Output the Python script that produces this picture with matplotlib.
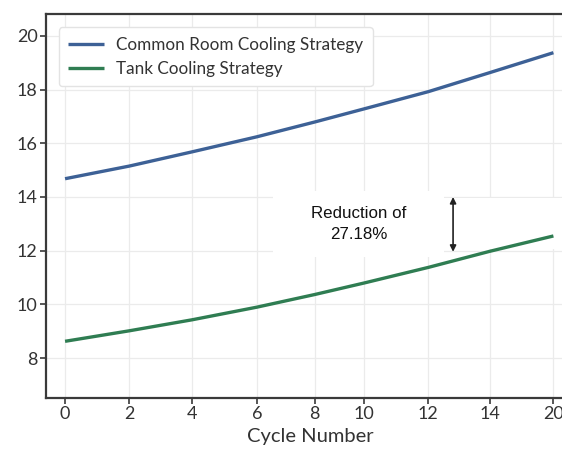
import matplotlib
matplotlib.use("Agg")
import matplotlib.pyplot as plt
from matplotlib.patches import Rectangle

# Cycle labels and where each one sits along the axis
cycle_labels = ["0", "2", "4", "6", "8", "10", "12", "14", "20"]
cycle_pos = [0, 1.01, 2.0, 3.02, 3.93, 4.71, 5.72, 6.69, 7.69]

common_room = [14.68, 15.15, 15.68, 16.24, 16.79, 17.28, 17.92, 18.63, 19.37]
tank = [8.63, 9.02, 9.43, 9.90, 10.37, 10.80, 11.38, 11.98, 12.55]

y_ticks = [8, 10, 12, 14, 16, 18, 20]

W, H = 562, 453
fig = plt.figure(figsize=(W / 100, H / 100), dpi=100)
ax = fig.add_axes([46 / W, (H - 398) / H, (575 - 46) / W, (398 - 14) / H])

font = "Lato"
blue = "#3d6196"
green = "#2f7d52"

ax.plot(cycle_pos, common_room, color=blue, lw=2.4, label="Common Room Cooling Strategy",
        solid_capstyle="butt", zorder=4)
ax.plot(cycle_pos, tank, color=green, lw=2.4, label="Tank Cooling Strategy",
        solid_capstyle="butt", zorder=4)

ax.set_xlim(-0.30, 8.03)
ax.set_ylim(6.52, 20.81)
ax.set_xticks(cycle_pos)
ax.set_xticklabels(cycle_labels)
ax.set_yticks(y_ticks)
ax.grid(True, color="#ebebeb", lw=0.9, zorder=0)
ax.set_axisbelow(True)

for side in ["left", "top", "bottom"]:
    ax.spines[side].set_color("#3a3a3a")
    ax.spines[side].set_linewidth(1.6)
ax.spines["right"].set_visible(False)

ax.tick_params(axis="both", length=4, width=1.2, color="#3a3a3a",
               labelsize=13, labelcolor="#333333", pad=2)
for lab in ax.get_xticklabels() + ax.get_yticklabels():
    lab.set_fontfamily(font)

ax.set_xlabel("Cycle Number", fontsize=14.5, fontfamily=font, color="#333333", labelpad=4)

# white panels behind the annotation
ax.add_patch(Rectangle((3.28, 11.78), 5.97 - 3.28, 14.22 - 11.78, facecolor="white",
                       edgecolor="none", zorder=1))
ax.add_patch(Rectangle((5.97, 12.05), 3.0, 13.95 - 12.05, facecolor="white",
                       edgecolor="none", zorder=1))

ax.text(4.62, 12.98, "Reduction of\n27.18%", ha="center", va="center",
        fontsize=12.2, fontfamily="Liberation Sans", color="#111111",
        linespacing=1.5, zorder=5)
ax.annotate("", xy=(6.11, 14.0), xytext=(6.11, 11.96),
            arrowprops=dict(arrowstyle="<|-|>", color="#222222", lw=1.2,
                            mutation_scale=9, shrinkA=0, shrinkB=0), zorder=5)

leg = ax.legend(loc="upper left", bbox_to_anchor=(0.008, 0.988),
                prop={"family": font, "size": 12.3}, frameon=True, fancybox=True,
                edgecolor="#e3e3e3", framealpha=1, handlelength=2.1,
                handletextpad=0.7, borderpad=0.55, labelspacing=0.5)
for t in leg.get_texts():
    t.set_color("#333333")

fig.savefig("out.png", dpi=100)
